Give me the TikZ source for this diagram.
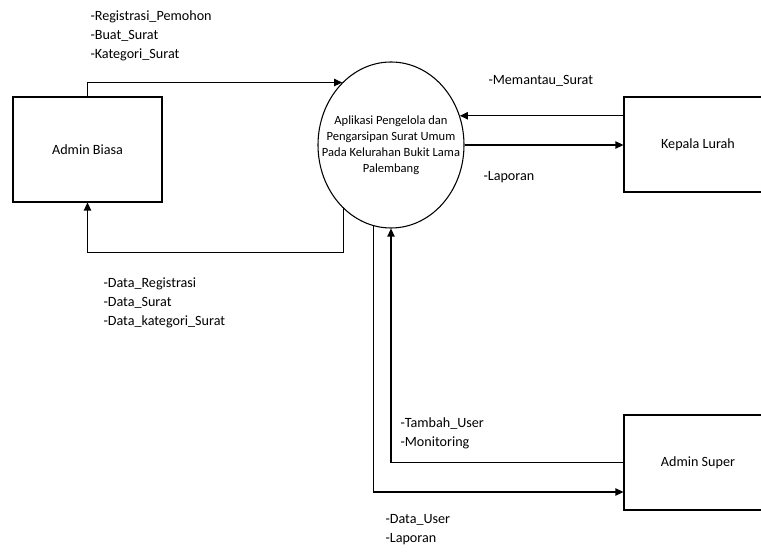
\documentclass[tikz,border=0pt]{standalone}
\usepackage{fontspec}
\setmainfont{Carlito}
\usetikzlibrary{arrows.meta,shapes.geometric,calc}
\begin{document}
\begin{tikzpicture}[x=0.75pt,y=-0.75pt,
  line width=0.8pt,
  arr/.style={-{Triangle[length=6pt,width=5.5pt]}},
  entity/.style={draw,rectangle,inner sep=0pt,font=\fontsize{10.6}{14.25}\selectfont},
  lbl/.style={anchor=west,inner sep=0pt,align=left,font=\fontsize{10.6}{14.25}\selectfont},
  ptext/.style={inner sep=0pt,align=center,font=\fontsize{9.4}{12}\selectfont}]
\useasboundingbox (0,0) rectangle (761,552);
% entities
\node[entity,minimum width=111.75pt,minimum height=78.75pt] (ab) at (87.5,149.5) {Admin Biasa};
\node[entity,minimum width=111pt,minimum height=71.25pt] (kl) at (698,144.5) {Kepala Lurah};
\node[entity,minimum width=111pt,minimum height=71.25pt] (as) at (698,462.5) {Admin Super};
% process
\node[draw,ellipse,inner sep=0pt,minimum width=109.5pt,minimum height=124.5pt] (proc) at (391,145) {};
\node[ptext] (proctext) at (391,145) {Aplikasi Pengelola dan\\Pengarsipan Surat Umum\\Pada Kelurahan Bukit Lama\\Palembang};
% flows admin biasa
\draw[arr] (ab.north) |- (proc.128);
\coordinate (abret) at ($(ab.south)+(0,50)$);
\draw[arr] (proc.233) |- (abret) -- (ab.south);
% flows kepala lurah
\draw[arr] (kl.west |- proc.23) -- (proc.23);
\draw[arr] (proc.east) -- (proc.east -| kl.west);
% flows admin super
\coordinate (asin) at ($(as.west)+(0,29.5)$);
\draw[arr] (proc.258) |- (asin);
\draw[arr] (as.west) -| (proc.south);
% labels
\node[lbl] (l1) at (90,36) {-Registrasi\_Pemohon\\-Buat\_Surat\\-Kategori\_Surat};
\node[lbl] (l2) at (103,303) {-Data\_Registrasi\\-Data\_Surat\\-Data\_kategori\_Surat};
\node[lbl] (l3) at (488,81) {-Memantau\_Surat};
\node[lbl] (l4) at (483,177) {-Laporan};
\node[lbl] (l5) at (400,433.5) {-Tambah\_User\\-Monitoring};
\node[lbl] (l6) at (385,529.5) {-Data\_User\\-Laporan};
\end{tikzpicture}
\end{document}
